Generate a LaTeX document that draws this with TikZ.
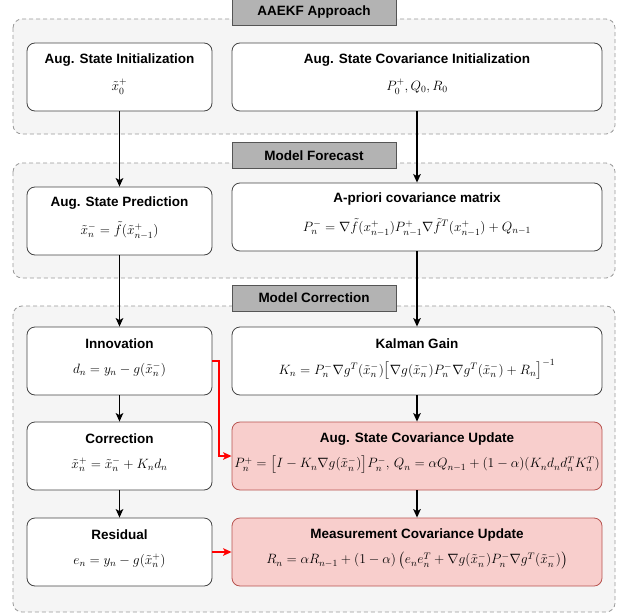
\documentclass[tikz,border=0pt]{standalone}
\usepackage{fix-cm}
\usepackage{amsmath}
\usepackage{fontspec}
\setsansfont{Liberation Sans}
\usetikzlibrary{arrows.meta}
\definecolor{contfill}{HTML}{F5F5F5}
\definecolor{contline}{HTML}{9A9A9A}
\definecolor{hdrfill}{HTML}{B3B3B3}
\definecolor{hdrline}{HTML}{555555}
\definecolor{boxline}{HTML}{444444}
\definecolor{pinkfill}{HTML}{F8CECC}
\definecolor{pinkline}{HTML}{B85450}
\definecolor{arrred}{HTML}{FF0000}
\begin{document}
\begin{tikzpicture}[x=1pt,y=-1pt,
  container/.style={draw=contline, dash pattern=on 4pt off 3pt, fill=contfill, rounded corners=9pt, line width=0.8pt},
  hdr/.style={draw=hdrline, fill=hdrfill, minimum width=164pt, minimum height=26pt, inner sep=0pt, line width=0.8pt, font=\sffamily\bfseries\fontsize{13.5}{16}\selectfont},
  box/.style={draw=boxline, fill=white, rounded corners=8pt, minimum height=68pt, inner sep=0pt, line width=0.8pt},
  lbox/.style={box, minimum width=185pt},
  rbox/.style={box, minimum width=370pt},
  pbox/.style={rbox, draw=pinkline, fill=pinkfill},
  ttl/.style={font=\sffamily\bfseries\fontsize{13.5}{16}\selectfont, inner sep=0pt},
  eq/.style={font=\fontsize{13.5}{16}\selectfont, inner sep=0pt},
  arr/.style={-{Stealth[length=8.5pt,width=7.5pt,inset=2pt]}, line width=1.8pt},
  rarr/.style={arr, draw=arrred}
]
\useasboundingbox (0,0) rectangle (628,615);

% containers
\draw[container] (13,19) rectangle (615,134);
\draw[container] (13,163) rectangle (615,278);
\draw[container] (13,306) rectangle (615,612);

% headers
\node[hdr] (h1) at (314,12) {AAEKF Approach};
\node[hdr] (h2) at (314,155.5) {Model Forecast};
\node[hdr] (h3) at (314,298) {Model Correction};

% boxes
\node[lbox] (b1) at (119.5,77) {};
\node[rbox] (b2) at (417,77) {};
\node[lbox] (pred) at (119.5,221) {};
\node[rbox] (apri) at (417,217) {};
\node[lbox] (innov) at (119.5,361) {};
\node[rbox] (kal) at (417,361) {};
\node[lbox] (corr) at (119.5,456) {};
\node[pbox] (augcov) at (417,456) {};
\node[lbox] (resid) at (119.5,552) {};
\node[pbox] (meascov) at (417,552) {};

% titles
\node[ttl] (b1t) at ([yshift=-17pt]b1.north) {Aug. State Initialization};
\node[ttl] (b2t) at ([yshift=-17pt]b2.north) {Aug. State Covariance Initialization};
\node[ttl] (predt) at ([yshift=-16pt]pred.north) {Aug. State Prediction};
\node[ttl] (aprit) at ([yshift=-16pt]apri.north) {A-priori covariance matrix};
\node[ttl] (innovt) at ([yshift=-17pt]innov.north) {Innovation};
\node[ttl] (kalt) at ([yshift=-17pt]kal.north) {Kalman Gain};
\node[ttl] (corrt) at ([yshift=-17pt]corr.north) {Correction};
\node[ttl] (augcovt) at ([yshift=-17pt]augcov.north) {Aug. State Covariance Update};
\node[ttl] (residt) at ([yshift=-17pt]resid.north) {Residual};
\node[ttl] (meascovt) at ([yshift=-17pt]meascov.north) {Measurement Covariance Update};

% equations
\node[eq] (b1e) at ([yshift=-44pt]b1.north) {$\tilde{x}_0^+$};
\node[eq] (b2e) at ([yshift=-44pt]b2.north) {$P_0^+, Q_0, R_0$};
\node[eq] (prede) at ([yshift=-44pt]pred.north) {$\tilde{x}_n^- = \tilde{f}(\tilde{x}^+_{n-1})$};
\node[eq] (aprie) at ([yshift=-45pt]apri.north) {$P_n^- = \nabla\tilde{f}(x^+_{n-1})P^+_{n-1}\nabla\tilde{f}^T(x^+_{n-1}) + Q_{n-1}$};
\node[eq] (innove) at ([yshift=-43pt]innov.north) {$d_n = y_n - g(\tilde{x}_n^-)$};
\node[eq] (kale) at ([yshift=-43pt]kal.north) {$K_n = P_n^-\nabla g^T(\tilde{x}_n^-)\bigl[\nabla g(\tilde{x}_n^-)P_n^-\nabla g^T(\tilde{x}_n^-) + R_n\bigr]^{-1}$};
\node[eq] (corre) at ([yshift=-43pt]corr.north) {$\tilde{x}_n^+ = \tilde{x}_n^- + K_n d_n$};
\node[eq] (augcove) at ([yshift=-43pt]augcov.north) {$P_n^+ = \bigl[I - K_n\nabla g(\tilde{x}_n^-)\bigr]P_n^-,\, Q_n = \alpha Q_{n-1} + (1-\alpha)(K_n d_n d_n^T K_n^T)$};
\node[eq] (reside) at ([yshift=-43pt]resid.north) {$e_n = y_n - g(\tilde{x}_n^+)$};
\node[eq] (meascove) at ([yshift=-43pt]meascov.north) {$R_n = \alpha R_{n-1} + (1-\alpha)\,\bigl(e_n e_n^T + \nabla g(\tilde{x}_n^-)P_n^-\nabla g^T(\tilde{x}_n^-)\bigr)$};

% connectors
\draw[arr] (b1.south) -- (pred.north);
\draw[arr] (b2.south) -- (apri.north);
\draw[arr] (pred.south) -- (innov.north);
\draw[arr] (apri.south) -- (kal.north);
\draw[arr] (innov.south) -- (corr.north);
\draw[arr] (kal.south) -- (augcov.north);
\draw[arr] (corr.south) -- (resid.north);
\draw[arr] (augcov.south) -- (meascov.north);
\draw[rarr] (innov.east) -- ++(6.5,0) |- (augcov.west);
\draw[rarr] (resid.east) -- (meascov.west);
\end{tikzpicture}
\end{document}
